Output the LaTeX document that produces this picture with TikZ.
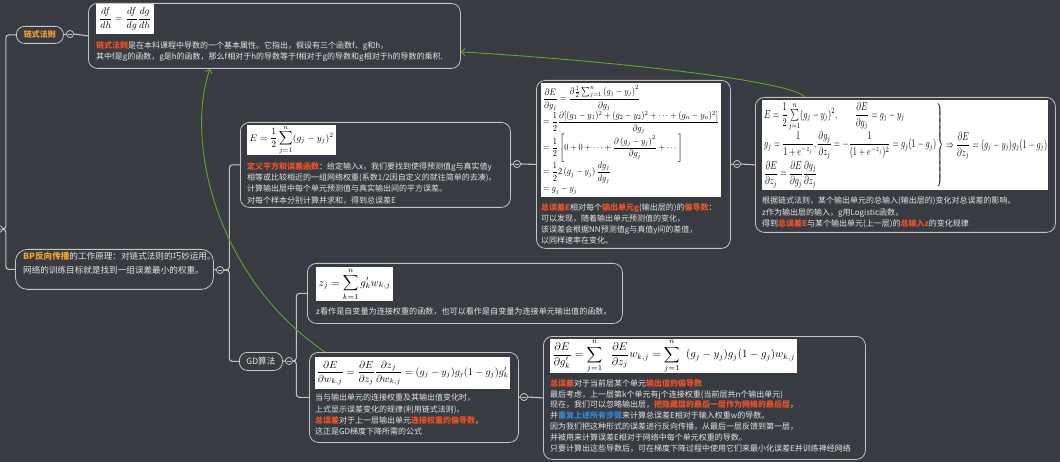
\documentclass[tikz,border=0pt]{standalone}
\usepackage{fontspec}
\usepackage{graphicx}
\usepackage{amsmath}
\usetikzlibrary{arrows.meta}
\newfontfamily\cjk{Noto Sans CJK SC}
\definecolor{bg}{HTML}{383B41}
\definecolor{edge}{HTML}{C4C4C4}
\definecolor{tx}{HTML}{E6E6E6}
\definecolor{hired}{HTML}{EE5228}
\definecolor{hiorange}{HTML}{F2A62B}
\definecolor{hiblue}{HTML}{2F8AD6}
\definecolor{lgreen}{HTML}{5FA32E}
\newcommand\hlr[1]{{\bfseries\color{hired}#1}}
\newcommand\hlo[1]{{\bfseries\color{hiorange}#1}}
\newcommand\hlb[1]{{\bfseries\color{hiblue}#1}}
\tikzset{
  box/.style={draw=edge, line width=0.8pt, rounded corners=9pt, inner sep=0pt, anchor=north west},
  pill/.style={draw=edge, line width=0.8pt, rounded corners=8pt, inner sep=0pt, anchor=north west, font=\cjk\bfseries\fontsize{8}{10}\selectfont},
  conn/.style={draw=edge, line width=1.1pt, rounded corners=3pt},
  fold/.style={circle, draw=edge, line width=0.7pt, fill=bg, minimum size=7pt, inner sep=0pt,
    path picture={\draw[edge, line width=0.6pt] ([xshift=-2pt]path picture bounding box.center) -- ([xshift=2pt]path picture bounding box.center);}},
  formula/.style={fill=white, inner sep=0pt, anchor=north west, text=black},
  txt/.style={anchor=north west, inner sep=0pt, align=left, text=tx, font=\cjk\fontsize{8}{11.3}\selectfont},
  link/.style={draw=lgreen, line width=0.9pt, -{Straight Barb[length=3.5pt,width=7pt]}},
}
\begin{document}
\begin{tikzpicture}[x=1pt,y=-1pt]
\fill[bg] (0,0) rectangle (1060,462);
\useasboundingbox (0,0) rectangle (1060,462);
\clip (0,0) rectangle (1060,462);

% ---------- nodes ----------
\node[fold] (root) at (-1,229) {};
\node[pill, minimum width=47pt, minimum height=17pt, text=hiorange] (n1) at (16,26) {链式法则};
\node[fold] (c1) at (70,34) {};
\node[box, minimum width=372pt, minimum height=65pt] (b1) at (88,3) {};
\node[formula, minimum width=58pt, minimum height=30pt] (f1) at (96,4) {\resizebox{52pt}{!}{$\displaystyle\frac{df}{dh}=\frac{df}{dg}\frac{dg}{dh}$}};
\node[txt] (t1) at (96,41.5) {\hlr{链式法则}是在本科课程中导数的一个基本属性。它指出，假设有三个函数f、g和h，\\其中f是g的函数，g是h的函数，那么f相对于h的导数等于f相对于g的导数和g相对于h的导数的乘积.};

\node[box, rounded corners=12pt, minimum width=198pt, minimum height=40pt] (bp) at (15,249) {};
\node[txt, font=\cjk\fontsize{8.6}{13.5}\selectfont] (tbp) at (23,252) {\hlo{BP反向传播}的工作原理：对链式法则的巧妙运用。\\网络的训练目标就是找到一组误差最小的权重。};
\node[fold] (cbp) at (220,270) {};

\node[box, minimum width=270pt, minimum height=85pt] (bE) at (240,122) {};
\node[formula, minimum width=89pt, minimum height=29pt] (fE) at (247,125) {\resizebox{84pt}{!}{$\displaystyle E=\frac{1}{2}\sum_{j=1}^{n}(g_j-y_j)^2$}};
\node[txt] (tE) at (247,162) {\hlr{定义平方和误差函数}：给定输入x，我们要找到使得预测值g与真实值y\\相等或比较相近的一组网络权重(系数1/2因自定义的就往简单的去凑)。\\计算输出层中每个单元预测值与真实输出间的平方误差。\\对每个样本分别计算并求和，得到总误差E};
\node[fold] (cE) at (517,164) {};

\node[box, minimum width=194pt, minimum height=168pt] (bdg) at (536,80) {};
\node[formula, minimum width=180pt, minimum height=114pt] (fdg) at (541,83) {\resizebox*{176pt}{110pt}{$\begin{array}{@{}l@{}}
\dfrac{\partial E}{\partial g_j}=\dfrac{\partial\frac{1}{2}\sum_{j=1}^{n}\left(g_j-y_j\right)^2}{\partial g_j}\\[4pt]
=\dfrac{1}{2}\dfrac{\partial[(g_1-y_1)^2+(g_2-y_2)^2+\cdots+(g_n-y_n)^2]}{\partial g_j}\\[4pt]
=\dfrac{1}{2}\left[0+0+\cdots+\dfrac{\partial\left(g_j-y_j\right)^2}{\partial g_j}+\cdots\right]\\[4pt]
=\dfrac{1}{2}2\left(g_j-y_j\right)\dfrac{dg_j}{dg_j}\\[4pt]
=g_j-y_j
\end{array}$}};
\node[txt, font=\cjk\fontsize{8}{11}\selectfont] (tdg) at (541,203.5) {\hlr{总误差E}相对每个\hlr{输出单元g}(输出层的)的\hlr{偏导数}：\\可以发现，随着输出单元预测值的变化，\\该误差会根据NN预测值g与真值y间的差值，\\以同样速率在变化。};
\node[fold] (cdg) at (737,164) {};

\node[box, minimum width=300pt, minimum height=135pt] (bdz) at (755,97) {};
\node[formula, minimum width=286pt, minimum height=90pt] (fdz) at (762,100) {\resizebox*{284pt}{86pt}{$\left.\begin{array}{@{}l@{}}
E=\dfrac{1}{2}\sum\limits_{j=1}^{n}(g_j-y_j)^2,\qquad\dfrac{\partial E}{\partial g_j}=g_j-y_j\\[8pt]
g_j=\dfrac{1}{1+e^{-z_j}},\dfrac{\partial g_j}{\partial z_j}=-\dfrac{1}{(1+e^{-z_j})^2}=g_j(1-g_j)\\[8pt]
\dfrac{\partial E}{\partial z_j}=\dfrac{\partial E}{\partial g_j}\dfrac{\partial g_j}{\partial z_j}
\end{array}\right\}\Rightarrow\dfrac{\partial E}{\partial z_j}=(g_j-y_j)g_j(1-g_j)$}};
\node[txt] (tdz) at (762,197) {根据链式法则，某个输出单元的总输入(输出层的)变化对总误差的影响。\\z作为输出层的输入，g用Logistic函数，\\得到\hlr{总误差E}与某个输出单元(上一层)的\hlr{总输入z}的变化规律};

\node[pill, minimum width=43pt, minimum height=18pt, text=tx, font=\cjk\fontsize{8.6}{10}\selectfont] (gd) at (239,352) {GD算法};
\node[fold] (cgd) at (289,361) {};

\node[box, minimum width=315pt, minimum height=60pt] (bz) at (307,263) {};
\node[formula, minimum width=77pt, minimum height=34pt] (fz) at (316,267) {\resizebox{72pt}{!}{$\displaystyle z_j=\sum_{k=1}^{n}g'_k w_{k,j}$}};
\node[txt, font=\cjk\fontsize{8.1}{11}\selectfont] (tz) at (316,307.5) {z看作是自变量为连接权重的函数，也可以看作是自变量为连接单元输出值的函数。};

\node[box, minimum width=209pt, minimum height=90pt] (bdw) at (309,352) {};
\node[formula, minimum width=195pt, minimum height=32pt] (fdw) at (315,357) {\resizebox{192pt}{!}{$\displaystyle\frac{\partial E}{\partial w_{k,j}}=\frac{\partial E}{\partial z_j}\frac{\partial z_j}{\partial w_{k,j}}=(g_j-y_j)g_j(1-g_j)g'_k$}};
\node[txt] (tdw) at (315,394) {当与输出单元的连接权重及其输出值变化时，\\上式显示误差变化的规律(利用链式法则)。\\\hlr{总误差}对于上一层输出单元\hlr{连接权重的偏导数}，\\这正是GD梯度下降所需的公式};
\node[fold] (cdw) at (524,397) {};

\node[box, minimum width=322pt, minimum height=123pt] (bdg2) at (543,336) {};
\node[formula, minimum width=247pt, minimum height=34pt] (fdg2) at (550,339) {\resizebox{243pt}{!}{$\displaystyle\frac{\partial E}{\partial g'_k}=\sum_{j=1}^{n}\;\;\frac{\partial E}{\partial z_j}w_{k,j}=\sum_{j=1}^{n}\;\;(g_j-y_j)g_j(1-g_j)w_{k,j}$}};
\node[txt, font=\cjk\fontsize{8}{10.9}\selectfont] (tdg2) at (550,379) {\hlr{总误差}对于当前层某个单元\hlr{输出值的偏导数}\\最后考虑，上一层第k个单元有j个连接权重(当前层共n个输出单元)\\现在，我们可以忽略输出层，\hlr{把隐藏层的最后一层作为网络的最后层}，\\并\hlb{重复上述所有步骤}来计算总误差E相对于输入权重w的导数。\\因为我们把这种形式的误差进行反向传播，从最后一层反馈到第一层，\\并被用来计算误差E相对于网络中每个单元权重的导数。\\只要计算出这些导数后，可在梯度下降过程中使用它们来最小化误差E并训练神经网络};

% ---------- connectors ----------
\draw[conn] (root.east) -- ++(3,0) |- (n1.west);
\draw[conn] (root.east) -- ++(3,0) |- (bp.west);
\draw[conn] (n1.east) -- (c1.west);
\draw[conn] (c1.east) -- (b1.west);
\draw[conn] (bp.east) -- (cbp.west);
\draw[conn] (cbp.east) -- ++(5.5,0) |- (bE.west);
\draw[conn] (cbp.east) -- ++(5.5,0) |- (gd.west);
\draw[conn] (bE.east) -- (cE.west);
\draw[conn] (cE.east) -- (bdg.west);
\draw[conn] (bdg.east) -- (cdg.west);
\draw[conn] (cdg.east) -- (bdz.west);
\draw[conn] (gd.east) -- (cgd.west);
\draw[conn] (cgd.east) -- ++(3.5,0) |- (bz.west);
\draw[conn] (cgd.east) -- ++(3.5,0) |- (bdw.west);
\draw[conn] (bdw.east) -- (cdw.west);
\draw[conn] (cdw.east) -- (bdg2.west);
\node[fold] at (root) {};
\node[fold] at (c1) {};
\node[fold] at (cbp) {};
\node[fold] at (cE) {};
\node[fold] at (cdg) {};
\node[fold] at (cgd) {};
\node[fold] at (cdw) {};

% ---------- relationship links ----------
\draw[link] ([xshift=50pt]bdz.north west) .. controls (790,80) and (600,60) .. ([yshift=-16pt]b1.east);
\draw[link] ([xshift=16pt]bdw.north west) .. controls (215,277) and (185,140) .. ([xshift=122pt]b1.south west);
\end{tikzpicture}
\end{document}
